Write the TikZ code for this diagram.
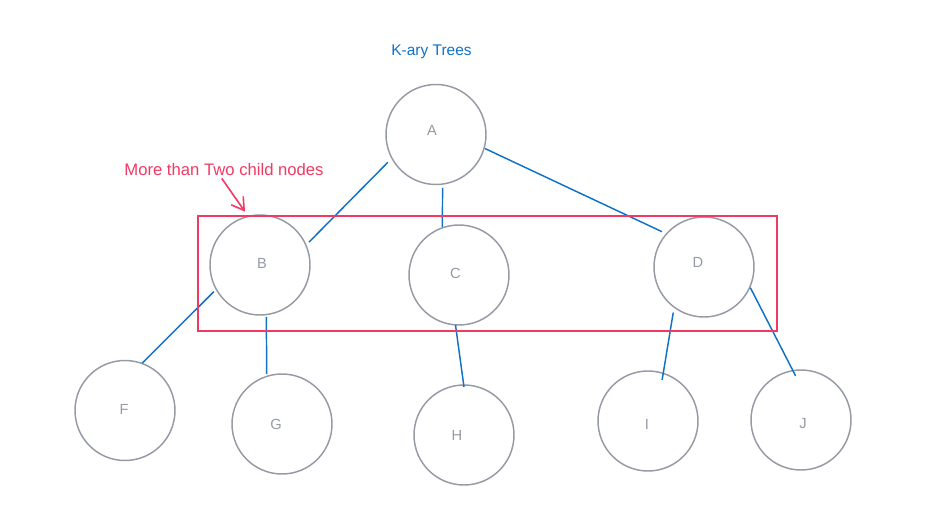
\documentclass[tikz,border=0pt]{standalone}
\usepackage{fontspec}
\setmainfont{Liberation Sans}
\usetikzlibrary{calc,arrows.meta}
\definecolor{circgray}{RGB}{150,153,166}
\definecolor{lblgray}{RGB}{150,153,166}
\definecolor{edgeblue}{RGB}{16,114,198}
\definecolor{notered}{RGB}{240,58,100}
\tikzset{
  circ/.style={circle,draw=circgray,line width=1.1pt,minimum size=75pt,inner sep=0pt,outer sep=0pt},
  lbl/.style={text=lblgray,font=\fontsize{11pt}{13pt}\selectfont,inner sep=0pt},
  edge/.style={draw=edgeblue,line width=1.1pt},
  notebox/.style={draw=notered,line width=1.4pt},
  notearrow/.style={draw=notered,line width=1.2pt,-{Straight Barb[length=9pt,width=11pt,line width=1.2pt]}},
}
\begin{document}
\begin{tikzpicture}[x=0.75pt,y=-0.75pt]
\useasboundingbox (0,0) rectangle (925,528);
% title
\node[text=edgeblue,font=\fontsize{11.6pt}{14pt}\selectfont,inner sep=0pt] (title) at (431.5,52) {K-ary Trees};
% nodes
\node[circ,label={[lbl,xshift=-3pt,yshift=3.4pt]center:A}] (A) at (436,134.5) {};
\node[circ,label={[lbl,xshift=1.5pt,yshift=1.5pt]center:B}] (B) at (260,265) {};
\node[circ,label={[lbl,xshift=-2.6pt,yshift=1.5pt]center:C}] (C) at (459,275) {};
\node[circ,label={[lbl,xshift=-4.5pt,yshift=3.75pt]center:D}] (D) at (704,267) {};
\node[circ,label={[lbl,xshift=-0.75pt,yshift=1.1pt]center:F}] (F) at (125,410.5) {};
\node[circ,label={[lbl,xshift=-4.5pt,yshift=0pt]center:G}] (G) at (282,424) {};
\node[circ,label={[lbl,xshift=-5.25pt,yshift=-0.5pt]center:H}] (H) at (464,435) {};
\node[circ,label={[lbl,xshift=-0.75pt,yshift=-2.25pt]center:I}] (I) at (648,421) {};
\node[circ,label={[lbl,xshift=1.5pt,yshift=-3pt]center:J}] (J) at (801,420) {};
% connectors
\draw[edge] ($(A)!1.11!(A.210)$) -- ($(B)!1.08!(B.25)$);
\draw[edge] ($(A)!1.076!(A.-83.6)$) -- ($(C)!1.02!(C.109.5)$);
\draw[edge] ($(A)!1.02!(A.-16.5)$) -- ($(D)!1.10!(D.140.2)$);
\draw[edge] ($(B)!1.066!(B.210.4)$) -- ($(F)!1.008!(F.70.3)$);
\draw[edge] ($(B)!1.046!(B.-83.4)$) -- ($(G)!1.05!(G.107.7)$);
\draw[edge] ($(C)!1.004!(C.-94.6)$) -- ($(H)!0.96!(H.90)$);
\draw[edge] ($(D)!1.10!(D.-124.6)$) -- ($(I)!0.866!(I.71.1)$);
\draw[edge] ($(D)!1.014!(D.-24.8)$) -- ($(J)!0.89!(J.97.8)$);
% annotation
\draw[notebox] (198,215.7) rectangle (776.7,331);
\node[text=notered,font=\fontsize{12.5pt}{15pt}\selectfont,inner sep=0pt] (note) at (224,170) {More than Two child nodes};
\coordinate (tip) at (245,211.7);
\draw[notearrow] ([xshift=-1.7pt,yshift=-1.5pt]note.south) -- (tip);
\end{tikzpicture}
\end{document}
